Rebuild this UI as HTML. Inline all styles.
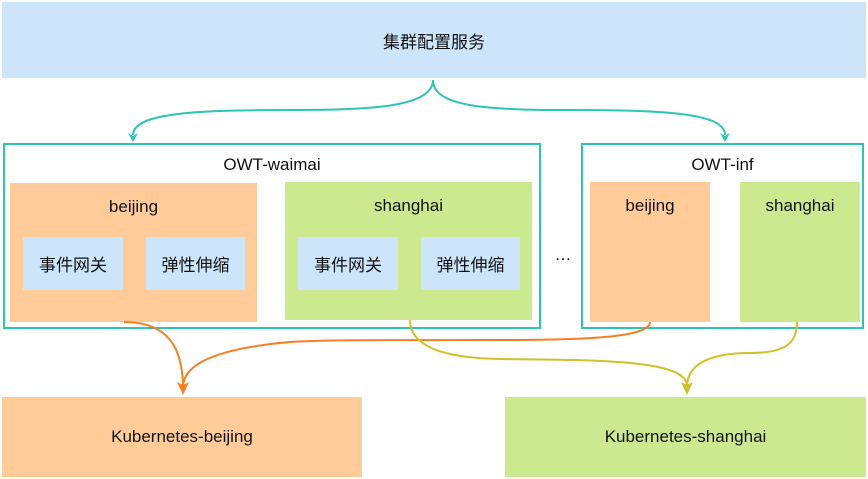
<!DOCTYPE html>
<html><head><meta charset="utf-8"><style>
body{margin:0;width:868px;height:479px;background:#fff;position:relative;overflow:hidden;font-family:"Liberation Sans","Noto Sans CJK SC",sans-serif;}
.b{position:absolute;display:flex;align-items:center;justify-content:center;font-size:17px;color:#111;box-sizing:border-box}
.t{align-items:flex-start;padding-top:14px}
.o{background:#ffcc99}.g{background:#cde990}.bl{background:#cce5fb}
.c{position:absolute;border:2px solid #2ec4b6;box-sizing:border-box}
svg{position:absolute;left:0;top:0}
</style></head><body>
<div class="b bl" style="left:2px;top:2px;width:864px;height:76px">集群配置服务</div>
<div class="c" style="left:3px;top:143px;width:538px;height:186px"></div>
<div class="c" style="left:581px;top:143px;width:283px;height:186px"></div>
<div class="b" style="left:3px;top:153px;width:538px;height:24px">OWT-waimai</div>
<div class="b" style="left:581px;top:153px;width:283px;height:24px">OWT-inf</div>
<div class="b o t" style="left:10px;top:183px;width:247px;height:139px">beijing</div>
<div class="b g t" style="left:285px;top:182px;width:247px;height:138px">shanghai</div>
<div class="b bl" style="left:23px;top:237px;width:100px;height:53px">事件网关</div>
<div class="b bl" style="left:146px;top:237px;width:99px;height:53px">弹性伸缩</div>
<div class="b bl" style="left:298px;top:237px;width:100px;height:53px">事件网关</div>
<div class="b bl" style="left:421px;top:237px;width:99px;height:53px">弹性伸缩</div>
<div class="b o t" style="left:590px;top:182px;width:120px;height:140px">beijing</div>
<div class="b g t" style="left:740px;top:182px;width:120px;height:140px">shanghai</div>
<div class="b" style="left:548px;top:245px;width:30px;height:20px">…</div>
<div class="b o" style="left:2px;top:397px;width:360px;height:80px">Kubernetes-beijing</div>
<div class="b g" style="left:505px;top:397px;width:361px;height:80px">Kubernetes-shanghai</div>
<svg width="868" height="479">
<g fill="none" stroke-width="2">
<path d="M433 80 C433 105 380 110 300 110 C200 110 133 112 133 135" stroke="#2ec4b6"/>
<path d="M433 80 C433 105 480 110 560 110 C660 110 725 112 725 135" stroke="#2ec4b6"/>
<path d="M124 322 C170 322 182 350 183 385" stroke="#f57f25"/>
<path d="M499 340 C580 340 650 338 650 322 M499 340 C360 340 320 340 290 342 C200 350 185 370 183 385" stroke="#f57f25"/>
<path d="M410 320 C410 345 440 358 500 359 C600 360 685 360 687 385" stroke="#cfc12a"/>
<path d="M797 322 C797 340 790 353 750 353 C700 353 688 370 687 385" stroke="#cfc12a"/>
</g>
<path d="M128 133 L133 142 L138 133 L133 136Z" fill="#2ec4b6"/>
<path d="M720 133 L725 142 L730 133 L725 136Z" fill="#2ec4b6"/>
<path d="M177 382 L183 395 L189 382 L183 385Z" fill="#f57f25"/>
<path d="M681 382 L687 395 L693 382 L687 385Z" fill="#cfc12a"/>
</svg>
</body></html>
